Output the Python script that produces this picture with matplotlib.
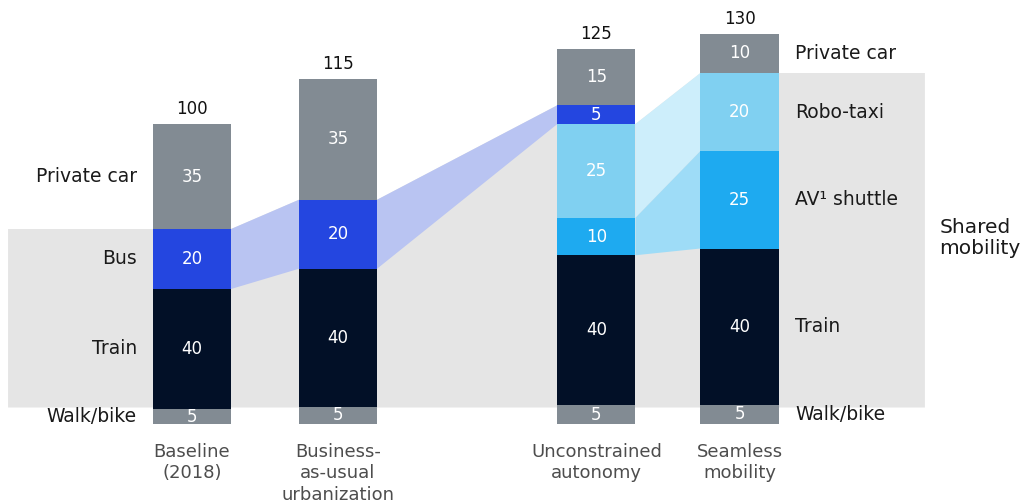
import numpy as np
import matplotlib
matplotlib.use("Agg")
import matplotlib.pyplot as plt

# ----- data -----
scenarios = ["Baseline\n(2018)", "Business-\nas-usual\nurbanization",
             "Unconstrained\nautonomy", "Seamless\nmobility"]
totals = [100, 115, 125, 130]

# shares (%) of each mode, stacked bottom -> top
modes = ["Walk/bike", "Train", "AV¹ shuttle", "Robo-taxi", "Bus", "Private car"]
walk = [5, 5, 5, 5]
train = [40, 40, 40, 40]
av_shuttle = [0, 0, 10, 25]
robo_taxi = [0, 0, 25, 20]
bus = [20, 20, 5, 0]
private_car = [35, 35, 15, 10]

left_labels = ["Walk/bike", "Train", "Bus", "Private car"]
right_labels = ["Walk/bike", "Train", "AV¹ shuttle", "Robo-taxi", "Private car"]

# ----- style -----
COLORS = {
    "Walk/bike": "#828b93",
    "Train": "#021027",
    "AV¹ shuttle": "#1eaaf0",
    "Robo-taxi": "#80d0f1",
    "Bus": "#2446e0",
    "Private car": "#828b93",
}
LINK_COLORS = {"Bus": "#b9c4f2", "Robo-taxi": "#cdeefb", "AV¹ shuttle": "#9edcf7"}
SHADE = "#e5e5e5"
XPOS = np.array([0, 1, 2.77, 3.75])
WIDTH = 0.535

shares = np.array([walk, train, av_shuttle, robo_taxi, bus, private_car], dtype=float)
heights = shares * np.array(totals) / 100.0
tops = np.cumsum(heights, axis=0)
bottoms = tops - heights
idx = {m: i for i, m in enumerate(modes)}

fig = plt.figure(figsize=(10.35, 5.04), dpi=100)
ax = fig.add_axes([0, 0, 1, 1])
ax.set_xlim(-192 / 146, (1035 - 192) / 146)
ax.set_ylim(-80 / 3, 424 / 3)
ax.axis("off")

# shared mobility shade: top follows the links between bars
bus_i, robo_i = idx["Bus"], idx["Robo-taxi"]
left_top = [tops[bus_i, 0], tops[bus_i, 1], tops[bus_i, 2], tops[robo_i, 3]]
right_top = [tops[bus_i, 0], tops[bus_i, 1], tops[robo_i, 2], tops[robo_i, 3]]
floor = 5.5
px = [-1.26]
py = [left_top[0]]
for i in range(4):
    px += [XPOS[i] - WIDTH / 2, XPOS[i] + WIDTH / 2]
    py += [left_top[i], right_top[i]]
px += [5.02, 5.02, -1.26]
py += [right_top[3], floor, floor]
ax.fill(px, py, color=SHADE, lw=0, zorder=0)


def link(mode, a, b):
    m = idx[mode]
    xa, xb = XPOS[a] + WIDTH / 2, XPOS[b] - WIDTH / 2
    ax.fill([xa, xb, xb, xa],
            [bottoms[m, a], bottoms[m, b], tops[m, b], tops[m, a]],
            color=LINK_COLORS[mode], lw=0, zorder=1)


link("Bus", 0, 1)
link("Bus", 1, 2)
link("Robo-taxi", 2, 3)
link("AV¹ shuttle", 2, 3)

# bars
for m, mode in enumerate(modes):
    ax.bar(XPOS, heights[m], WIDTH, bottom=bottoms[m], color=COLORS[mode],
           edgecolor="none", zorder=2)
    for i in range(4):
        if shares[m, i] > 0:
            ax.text(XPOS[i], bottoms[m, i] + heights[m, i] / 2, f"{shares[m, i]:.0f}",
                    ha="center", va="center", color="white", fontsize=12, zorder=3)

for i in range(4):
    ax.text(XPOS[i], totals[i] + 5, str(totals[i]), ha="center", va="center",
            fontsize=12, color="#111111")
    ax.text(XPOS[i], -6.3, scenarios[i], ha="center", va="top",
            fontsize=13, color="#4d4d4d", linespacing=1.25)

for mode in left_labels:
    m = idx[mode]
    ax.text(-0.377, bottoms[m, 0] + heights[m, 0] / 2, mode, ha="right",
            va="center", fontsize=13.5, color="#1a1a1a")
for mode in right_labels:
    m = idx[mode]
    ax.text(4.13, bottoms[m, 3] + heights[m, 3] / 2, mode, ha="left",
            va="center", fontsize=13.5, color="#1a1a1a")

ax.text(5.12, 62, "Shared\nmobility", ha="left", va="center", fontsize=14.5,
        color="#1a1a1a", linespacing=1.1)

fig.savefig("out.png", dpi=100)
